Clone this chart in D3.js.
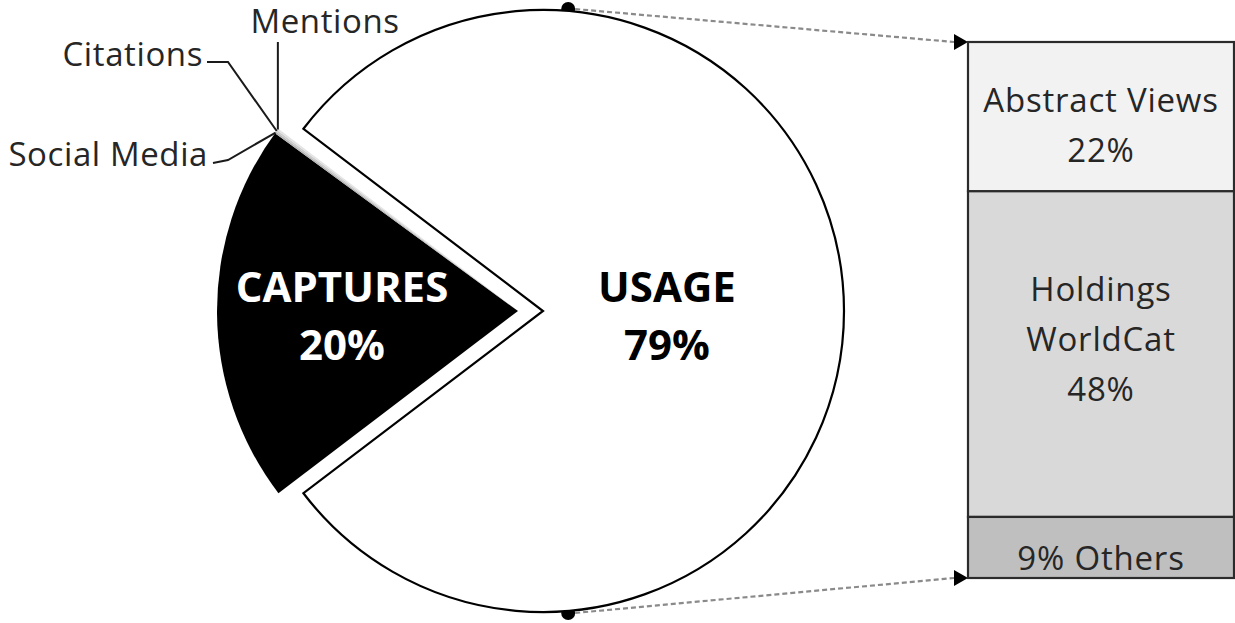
<!DOCTYPE html>
<html>
<head>
<meta charset="utf-8">
<script src="https://cdn.jsdelivr.net/npm/d3@7"></script>
<style>
  html, body { margin: 0; padding: 0; background: #fff; }
  svg { display: block; }
  text { font-family: "Open Sans", "Noto Sans", sans-serif; font-variant-ligatures: none; }
</style>
</head>
<body>
<svg id="chart" width="1235" height="623"></svg>
<script>
// ---- data ----
const pieCategories = ["USAGE", "CAPTURES", "Social Media", "Citations", "Mentions"];
const pieValues = [79.3, 20.4, 0.1, 0.1, 0.1];
const pieLabels = ["79%", "20%", "", "", ""];
const barCategories = ["Abstract Views", "Holdings WorldCat", "Others"];
const barValues = [22, 48, 9];
const barLabels = [["Abstract Views", "22%"], ["Holdings", "WorldCat", "48%"], ["9% Others"]];

// ---- layout ----
const svg = d3.select("#chart");
const cx = 543, cy = 311, R = 301, explode = 25;
const pieFill = ["#ffffff", "#000000", "#b5b5b5", "#cdcdcd", "#e4e4e4"];
const barFill = ["#f2f2f2", "#d9d9d9", "#bfbfbf"];
const barLabelNudge = [9, -14, 12];

const total = d3.sum(pieValues);
const usageAngle = 2 * Math.PI * pieValues[0] / total;
const start = Math.PI / 2 - usageAngle / 2;
const pie = d3.pie().value(d => d.v).sort(null)
  .startAngle(start).endAngle(start + 2 * Math.PI);
const data = pieCategories.map((c, i) => ({ c, v: pieValues[i], lab: pieLabels[i], i }));
const arcs = pie(data);
const arc = d3.arc().innerRadius(0).outerRadius(R);

// bar geometry
const barX0 = 968, barX1 = 1234, barTop = 42, barBottom = 578;
const y = d3.scaleLinear().domain([0, d3.sum(barValues)]).range([barTop, barBottom]);
let acc = 0;
const segs = barValues.map((v, i) => { const s = { y0: y(acc), y1: y(acc + v), i }; acc += v; return s; });

// connector anchor points on usage circle
const connAng = 4.8 * Math.PI / 180;
const pTop = [cx + R * Math.sin(connAng), cy - R * Math.cos(connAng) - 2];
const pBot = [cx + R * Math.sin(connAng), cy + R * Math.cos(connAng) + 2];

// dots (drawn under pie so only outer half shows)
svg.append("circle").attr("cx", pTop[0]).attr("cy", pTop[1]).attr("r", 7).attr("fill", "#000");
svg.append("circle").attr("cx", pBot[0]).attr("cy", pBot[1]).attr("r", 7).attr("fill", "#000");

// pie slices
const g = svg.append("g");
arcs.forEach((a, i) => {
  const dx = i === 0 ? 0 : -explode;
  g.append("path")
    .attr("transform", `translate(${cx + dx},${cy})`)
    .attr("d", arc(a))
    .attr("fill", pieFill[i])
    .attr("stroke", i === 0 ? "#000" : "none")
    .attr("stroke-width", i === 0 ? 2.2 : 0)
    .attr("stroke-linejoin", "miter");
});

// connectors (dashed)
[[pTop, [barX0 - 14, barTop]], [pBot, [barX0 - 14, barBottom]]].forEach(([a, b]) => {
  svg.append("line").attr("x1", a[0] + 7).attr("y1", a[1]).attr("x2", b[0]).attr("y2", b[1])
    .attr("stroke", "#8a8a8a").attr("stroke-width", 2.2).attr("stroke-dasharray", "5,3");
  svg.append("path")
    .attr("d", `M${b[0]},${b[1] - 8} L${barX0},${b[1]} L${b[0]},${b[1] + 8} Z`)
    .attr("fill", "#000");
});

// bar
svg.selectAll("rect.seg").data(segs).enter().append("rect")
  .attr("class", "seg")
  .attr("x", barX0).attr("y", d => d.y0)
  .attr("width", barX1 - barX0).attr("height", d => d.y1 - d.y0)
  .attr("fill", d => barFill[d.i])
  .attr("stroke", "#2b2b2b").attr("stroke-width", 2.2);

// bar labels
const barFont = 33, lineH = 50;
segs.forEach((s, i) => {
  const lines = barLabels[i];
  const mid = (s.y0 + s.y1) / 2 + barLabelNudge[i];
  lines.forEach((t, j) => {
    svg.append("text")
      .attr("x", (barX0 + barX1) / 2)
      .attr("y", mid + (j - (lines.length - 1) / 2) * lineH + 11)
      .attr("text-anchor", "middle")
      .attr("font-size", barFont)
      .attr("letter-spacing", 0.8)
      .attr("fill", "#262626")
      .text(t);
  });
});

// pie labels (big)
const lab = [
  { i: 0, x: 667, lines: [pieCategories[0], pieLabels[0]], color: "#000" },
  { i: 1, x: 342, lines: [pieCategories[1], pieLabels[1]], color: "#fff" }
];
lab.forEach(L => {
  L.lines.forEach((t, j) => {
    svg.append("text")
      .attr("x", L.x).attr("y", 302 + j * 58)
      .attr("text-anchor", "middle")
      .attr("font-size", 42).attr("font-weight", "bold")
      .attr("fill", L.color)
      .text(t);
  });
});

// small slice leaders
const tip = i => {
  const a = arcs[i];
  const ang = (a.startAngle + a.endAngle) / 2;
  return [cx - explode + R * Math.sin(ang), cy - R * Math.cos(ang)];
};
const leaders = [
  { i: 2, pts: [[228, 160], [213, 163]], tx: 208, ty: 166, anchor: "end" },
  { i: 3, pts: [[228, 62], [207, 62]], tx: 203, ty: 66, anchor: "end" },
  { i: 4, pts: [[null, 42]], tx: 325, ty: 33, anchor: "middle" }
];
leaders.forEach(L => {
  const t = tip(L.i);
  const pts = [t].concat(L.pts.map(p => [p[0] === null ? t[0] : p[0], p[1]]));
  svg.append("path").attr("d", d3.line()(pts))
    .attr("fill", "none").attr("stroke", "#1a1a1a").attr("stroke-width", 2);
  svg.append("text").attr("x", L.tx).attr("y", L.ty)
    .attr("text-anchor", L.anchor).attr("font-size", 33).attr("letter-spacing", 0.6)
    .attr("fill", "#262626")
    .text(pieCategories[L.i]);
});
</script>
</body>
</html>
